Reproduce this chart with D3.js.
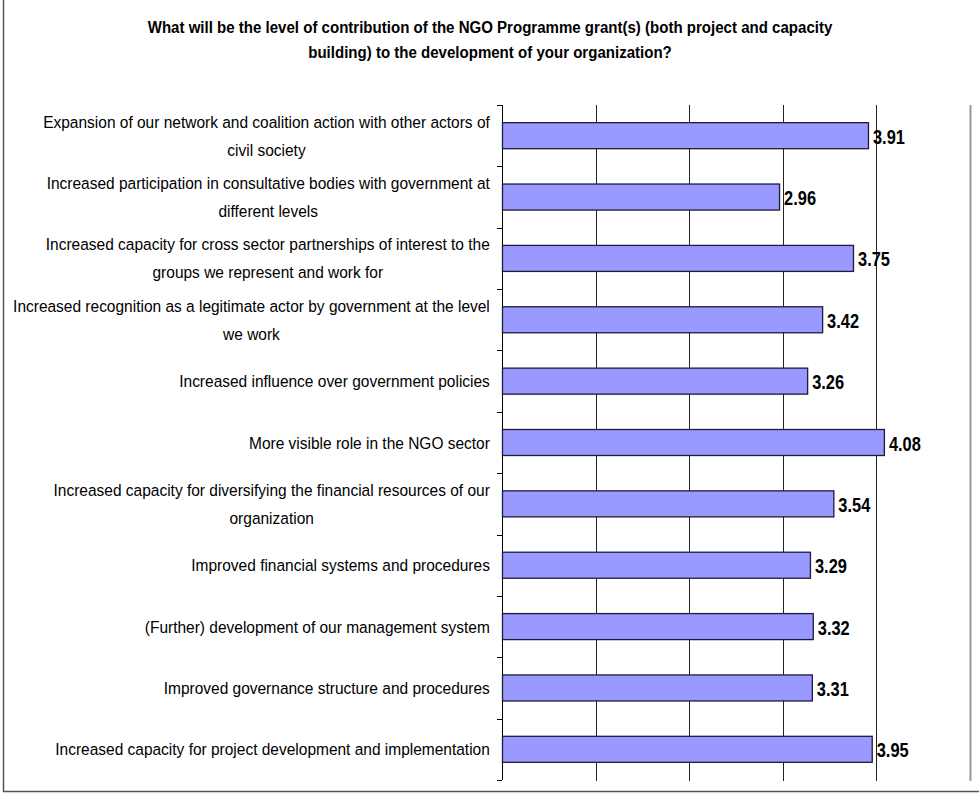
<!DOCTYPE html>
<html lang="en">
<head>
  <meta charset="UTF-8">
  <title>NGO Programme grant contribution</title>
  <script src="https://d3js.org/d3.v7.min.js"></script>
  <style>
    body {
      margin: 0;
      background: #fff;
      font-family: "Liberation Sans Narrow", "Arial Narrow", "Liberation Sans", Arial, sans-serif;
    }
  </style>
</head>
<body>
<svg id="chart" width="979" height="794"></svg>

<script>
// Chart data
const categories = [
  ["Expansion of our network and coalition action with other actors of", "civil society"],
  ["Increased participation in consultative bodies with government at", "different levels"],
  ["Increased capacity for cross sector partnerships of interest to the", "groups we represent and work for"],
  ["Increased recognition as a legitimate actor by government at the level", "we work"],
  ["Increased influence over government policies"],
  ["More visible role in the NGO sector"],
  ["Increased capacity for diversifying the financial resources of our", "organization"],
  ["Improved financial systems and procedures"],
  ["(Further) development of our management system"],
  ["Improved governance structure and procedures"],
  ["Increased capacity for project development and implementation"]
];
const values = [3.91, 2.96, 3.75, 3.42, 3.26, 4.08, 3.54, 3.29, 3.32, 3.31, 3.95];
const xTicks = [0, 1, 2, 3, 4, 5];
const titleLines = [
  "What will be the level of contribution of the NGO Programme grant(s) (both project and capacity",
  "building) to the development of your organization?"
];

const svg = d3.select("#chart");
const margin = { top: 105, right: 9, bottom: 14, left: 502 };
const width = 979, height = 794;
const plotBottom = 780;

// the original uses a condensed face; squeeze a regular one horizontally
function widthOf(str, size, weight) {
  const t = svg.append("text").attr("font-size", size).attr("font-weight", weight).text(str);
  const w = t.node().getComputedTextLength();
  t.remove();
  return w;
}
const labelSx = 447 / widthOf(categories[0][0], 17, "normal");
const titleSx = 685 / widthOf(titleLines[0], 17, "bold");
const valueSx = 32 / widthOf("3.91", 20, "bold");

// outer frame (only left and bottom edges are visible in the original)
svg.append("line")
  .attr("x1", 3.5).attr("x2", 3.5).attr("y1", 0).attr("y2", 792)
  .attr("stroke", "#555").attr("stroke-width", 1.5);
svg.append("line")
  .attr("x1", 3).attr("x2", width).attr("y1", 791.5).attr("y2", 791.5)
  .attr("stroke", "#555").attr("stroke-width", 1.5);

// title
svg.append("g")
  .selectAll("text")
  .data(titleLines)
  .join("text")
  .attr("transform", (d, i) => `translate(490,${33 + i * 25}) scale(${titleSx},1)`)
  .attr("text-anchor", "middle")
  .attr("font-weight", "bold")
  .attr("font-size", 17)
  .attr("fill", "#000")
  .text(d => d);

const x = d3.scaleLinear()
  .domain([0, 5])
  .range([margin.left, 970]);

const y = d3.scaleBand()
  .domain(d3.range(categories.length))
  .range([margin.top, plotBottom])
  .paddingInner(0.576)
  .paddingOuter(0.288);

// vertical gridlines (extend a bit below the plot like tick marks)
svg.append("g")
  .selectAll("line")
  .data(xTicks.filter(t => t > 0))
  .join("line")
  .attr("x1", d => Math.round(x(d)) + 0.5)
  .attr("x2", d => Math.round(x(d)) + 0.5)
  .attr("y1", margin.top)
  .attr("y2", plotBottom + 1)
  .attr("stroke", d => d === 5 ? "#999" : "#222")
  .attr("stroke-width", d => d === 5 ? 2 : 1);

// left axis with tick marks at category boundaries
const yAxisG = svg.append("g");
yAxisG.append("line")
  .attr("x1", margin.left + 0.5).attr("x2", margin.left + 0.5)
  .attr("y1", margin.top).attr("y2", plotBottom)
  .attr("stroke", "#000");
yAxisG.selectAll(".tick")
  .data(d3.range(categories.length + 1))
  .join("line")
  .attr("class", "tick")
  .attr("x1", margin.left - 5).attr("x2", margin.left)
  .attr("y1", i => Math.round(margin.top + i * y.step()) + 0.5)
  .attr("y2", i => Math.round(margin.top + i * y.step()) + 0.5)
  .attr("stroke", "#000");

// bars
svg.append("g")
  .selectAll("rect")
  .data(values)
  .join("rect")
  .attr("x", x(0) + 0.5)
  .attr("y", (d, i) => y(i))
  .attr("width", d => x(d) - x(0))
  .attr("height", y.bandwidth())
  .attr("fill", "#9999ff")
  .attr("stroke", "#1c1c38")
  .attr("stroke-width", 1.3);

// value labels
svg.append("g")
  .selectAll("text")
  .data(values)
  .join("text")
  .attr("transform", (d, i) => `translate(${x(d) + 5},${y(i) + y.bandwidth() / 2 + 8}) scale(${valueSx},1)`)
  .attr("font-weight", "bold")
  .attr("font-size", 20)
  .attr("fill", "#000")
  .text(d => d.toFixed(2));

// category labels: block right-aligned at 490, lines centered within block
const labelRight = 490;
const lineH = 28;
const catG = svg.append("g").attr("font-size", 17).attr("fill", "#000");
categories.forEach((lines, i) => {
  const cy = y(i) + y.bandwidth() / 2;
  const widths = lines.map(s => widthOf(s, 17, "normal") * labelSx);
  const cx = labelRight - d3.max(widths) / 2;
  const y0 = cy - (lines.length - 1) * lineH / 2 + 6;
  catG.selectAll(null)
    .data(lines)
    .join("text")
    .attr("transform", (d, j) => `translate(${cx},${y0 + j * lineH}) scale(${labelSx},1)`)
    .attr("text-anchor", "middle")
    .text(d => d);
});
</script>
</body>
</html>
